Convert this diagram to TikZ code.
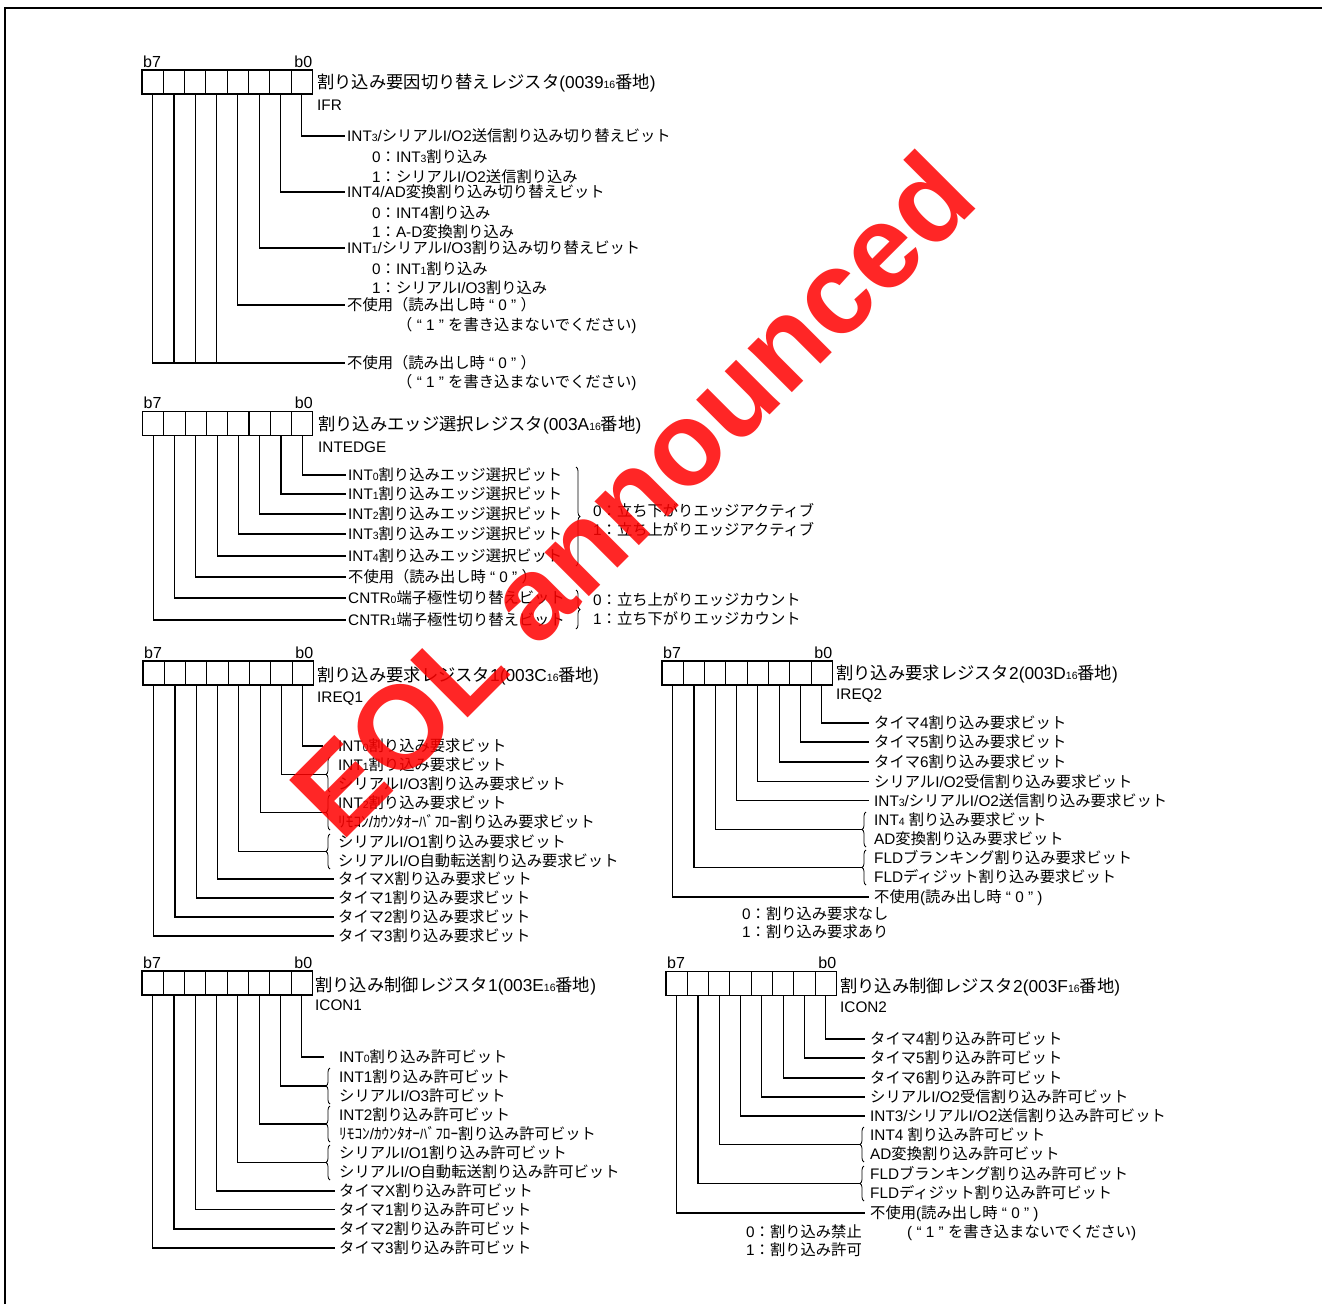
\documentclass[tikz,border=0pt]{standalone}
\usepackage{fontspec}
\setmainfont{Liberation Sans}
\newfontfamily\jpf{Noto Sans CJK JP}
\usetikzlibrary{decorations.pathreplacing}
\newcount\cjkcnt
\chardef\CJKcls=7
\def\setcjkrange#1#2{\cjkcnt=#1\relax\loop\XeTeXcharclass\cjkcnt=\CJKcls\relax\ifnum\cjkcnt<#2\relax\advance\cjkcnt by 1\relax\repeat}
\setcjkrange{"3000}{"30FF}
\setcjkrange{"4E00}{"9FFF}
\setcjkrange{"FF00}{"FFEF}
\XeTeXinterchartokenstate=1
\XeTeXinterchartoks 0 \CJKcls = {\jpf}
\XeTeXinterchartoks 4095 \CJKcls = {\jpf}
\XeTeXinterchartoks \CJKcls 0 = {\rmfamily}
\XeTeXinterchartoks \CJKcls 4095 = {\rmfamily}
\newcommand\tx{\fontsize{15.3}{18}\selectfont}
\newcommand\ttx{\fontsize{17.3}{20}\selectfont}
\newcommand\bx{\fontsize{16}{18}\selectfont}
\newcommand\sbs[1]{{\fontsize{10.5}{12}\selectfont #1}}
\tikzset{
  cell/.style={draw, line width=1.1pt},
  conn/.style={line width=1.1pt},
  lbl/.style={anchor=west, inner sep=0pt, text height=12pt, text depth=1pt, font=\tx},
  ttl/.style={lbl, font=\ttx, text height=13pt},
  bitl/.style={inner sep=0pt, font=\bx},
  brc/.style={decorate, decoration={brace, amplitude=4pt}, line width=0.8pt},
  frame/.style={line width=2.6pt},
  wm/.style={rotate=45, text=red, text opacity=0.85, font=\fontsize{118}{126}\selectfont\bfseries, inner sep=0pt}
}
\newcommand\regdraw[3]{%
  \draw[cell] (#2,#3) rectangle ++(170.4,24);
  \foreach \k in {1,...,7} {\draw[cell] (#2+\k*21.3,#3) -- ++(0,24);}
  \foreach \k in {0,...,7} {\coordinate (#1-\k) at (#2+159.75-21.3*\k, #3+24);}
  \node[bitl, anchor=base west] (#1-b7) at (#2+1, #3-3) {b7};
  \node[bitl, anchor=base east] (#1-b0) at (#2+170.4, #3-3) {b0};
}
\begin{document}
\begin{tikzpicture}[x=1pt,y=-1pt]
\useasboundingbox (0,0) rectangle (1322,1304);
\fill[white] (0,0) rectangle (1322,1304);
\draw[frame] (5,1304) -- (5,8) -- (1322,8);

% ---------- IFR ----------
\regdraw{A}{142}{70}
\node[ttl] (A-t) at (317,82) {割り込み要因切り替えレジスタ(0039\sbs{16}番地)};
\node[lbl] (A-n) at (317,105) {IFR};
\node[lbl] (A-L0) at (347,136) {INT\sbs{3}/シリアルI/O2送信割り込み切り替えビット};
\node[lbl] (A-L0a) at (372,157) {0：INT\sbs{3}割り込み};
\node[lbl] (A-L0b) at (372,177) {1：シリアルI/O2送信割り込み};
\node[lbl] (A-L1) at (347,192) {INT4/AD変換割り込み切り替えビット};
\node[lbl] (A-L1a) at (372,213) {0：INT4割り込み};
\node[lbl] (A-L1b) at (372,232) {1：A-D変換割り込み};
\node[lbl] (A-L2) at (347,248) {INT\sbs{1}/シリアルI/O3割り込み切り替えビット};
\node[lbl] (A-L2a) at (372,269) {0：INT\sbs{1}割り込み};
\node[lbl] (A-L2b) at (372,288) {1：シリアルI/O3割り込み};
\node[lbl] (A-L3) at (347,305) {不使用（読み出し時 “ 0 ” ）};
\node[lbl] (A-L3a) at (397,325) {（ “ 1 ” を書き込まないでください)};
\node[lbl] (A-L4) at (347,363) {不使用（読み出し時 “ 0 ” ）};
\node[lbl] (A-L4a) at (397,382) {（ “ 1 ” を書き込まないでください)};
\foreach \k in {0,1,2,3} {\draw[conn] (A-\k) |- ([xshift=-2pt]A-L\k.west);}
\draw[conn] (A-7) |- ([xshift=-2pt]A-L4.west);
\foreach \k in {4,5,6} {\draw[conn] (A-\k) -- (A-\k |- A-L4.west);}

% ---------- INTEDGE ----------
\regdraw{B}{142.5}{411.5}
\node[ttl] (B-t) at (318,424) {割り込みエッジ選択レジスタ(003A\sbs{16}番地)};
\node[lbl] (B-n) at (318,447) {INTEDGE};
\node[lbl] (B-L0) at (348,475) {INT\sbs{0}割り込みエッジ選択ビット};
\node[lbl] (B-L1) at (348,494) {INT\sbs{1}割り込みエッジ選択ビット};
\node[lbl] (B-L2) at (348,514) {INT\sbs{2}割り込みエッジ選択ビット};
\node[lbl] (B-L3) at (348,534) {INT\sbs{3}割り込みエッジ選択ビット};
\node[lbl] (B-L4) at (348,556) {INT\sbs{4}割り込みエッジ選択ビット};
\node[lbl] (B-L5) at (348,577) {不使用（読み出し時 “ 0 ” ）};
\node[lbl] (B-L6) at (348,598) {CNTR\sbs{0}端子極性切り替えビット};
\node[lbl] (B-L7) at (348,620) {CNTR\sbs{1}端子極性切り替えビット};
\foreach \k in {0,...,7} {\draw[conn] (B-\k) |- ([xshift=-2pt]B-L\k.west);}
\coordinate (B-r1a) at (576,467); \coordinate (B-r1b) at (576,566);
\coordinate (B-r2a) at (576,590); \coordinate (B-r2b) at (576,629);
\draw[brc] (B-r1a) -- (B-r1b);
\draw[brc] (B-r2a) -- (B-r2b);
\node[lbl] (B-v0) at (593,511) {0：立ち下がりエッジアクティブ};
\node[lbl] (B-v1) at (593,530) {1：立ち上がりエッジアクティブ};
\node[lbl] (B-v2) at (593,600) {0：立ち上がりエッジカウント};
\node[lbl] (B-v3) at (593,619) {1：立ち下がりエッジカウント};

% ---------- IREQ1 ----------
\regdraw{C}{143}{661}
\node[ttl] (C-t) at (317,675) {割り込み要求レジスタ1(003C\sbs{16}番地)};
\node[lbl] (C-n) at (317,697) {IREQ1};
\node[lbl] (C-L0) at (338,746) {INT\sbs{0}割り込み要求ビット};
\node[lbl] (C-L1a) at (338,765) {INT\sbs{1}割り込み要求ビット};
\node[lbl] (C-L1b) at (338,784) {シリアルI/O3割り込み要求ビット};
\node[lbl] (C-L2a) at (338,803) {INT\sbs{2}割り込み要求ビット};
\node[lbl] (C-L2b) at (338,822) {ﾘﾓｺﾝ/ｶｳﾝﾀｵｰﾊﾞﾌﾛｰ割り込み要求ビット};
\node[lbl] (C-L3a) at (338,842) {シリアルI/O1割り込み要求ビット};
\node[lbl] (C-L3b) at (338,861) {シリアルI/O自動転送割り込み要求ビット};
\node[lbl] (C-L4) at (338,879) {タイマX割り込み要求ビット};
\node[lbl] (C-L5) at (338,898) {タイマ1割り込み要求ビット};
\node[lbl] (C-L6) at (338,917) {タイマ2割り込み要求ビット};
\node[lbl] (C-L7) at (338,936) {タイマ3割り込み要求ビット};
\draw[conn] (C-0) |- ([xshift=-15pt]C-L0.west);
\coordinate (C-k1a) at (330,792); \coordinate (C-k1b) at (330,757); \coordinate (C-k1) at (326,774.5);
\coordinate (C-k2a) at (330,830); \coordinate (C-k2b) at (330,795); \coordinate (C-k2) at (326,812.5);
\coordinate (C-k3a) at (330,869); \coordinate (C-k3b) at (330,834); \coordinate (C-k3) at (326,851.5);
\foreach \k in {1,2,3} {\draw[brc] (C-k\k a) -- (C-k\k b); \draw[conn] (C-\k) |- (C-k\k);}
\foreach \k in {4,...,7} {\draw[conn] (C-\k) |- ([xshift=-4pt]C-L\k.west);}

% ---------- IREQ2 ----------
\regdraw{D}{662}{661}
\node[ttl] (D-t) at (836,673) {割り込み要求レジスタ2(003D\sbs{16}番地)};
\node[lbl] (D-n) at (836,694) {IREQ2};
\node[lbl] (D-L0) at (874,723) {タイマ4割り込み要求ビット};
\node[lbl] (D-L1) at (874,742) {タイマ5割り込み要求ビット};
\node[lbl] (D-L2) at (874,762) {タイマ6割り込み要求ビット};
\node[lbl] (D-L3) at (874,781.5) {シリアルI/O2受信割り込み要求ビット};
\node[lbl] (D-L4) at (874,800.5) {INT\sbs{3}/シリアルI/O2送信割り込み要求ビット};
\node[lbl] (D-L5a) at (874,820) {INT\sbs{4} 割り込み要求ビット};
\node[lbl] (D-L5b) at (874,838.5) {AD変換割り込み要求ビット};
\node[lbl] (D-L6a) at (874,858) {FLDブランキング割り込み要求ビット};
\node[lbl] (D-L6b) at (874,877) {FLDディジット割り込み要求ビット};
\node[lbl] (D-L7) at (874,897) {不使用(読み出し時 “ 0 ” )};
\node[lbl] (D-v0) at (742,914) {0：割り込み要求なし};
\node[lbl] (D-v1) at (742,932) {1：割り込み要求あり};
\foreach \k in {0,...,4,7} {\draw[conn] (D-\k) |- ([xshift=-5pt]D-L\k.west);}
\coordinate (D-k5a) at (866,847); \coordinate (D-k5b) at (866,812); \coordinate (D-k5) at (862,829.5);
\coordinate (D-k6a) at (866,885); \coordinate (D-k6b) at (866,850); \coordinate (D-k6) at (862,867.5);
\foreach \k in {5,6} {\draw[brc] (D-k\k a) -- (D-k\k b); \draw[conn] (D-\k) |- (D-k\k);}

% ---------- ICON1 ----------
\regdraw{E}{142}{971}
\node[ttl] (E-t) at (315,985) {割り込み制御レジスタ1(003E\sbs{16}番地)};
\node[lbl] (E-n) at (315,1005) {ICON1};
\node[lbl] (E-L0) at (339,1057) {INT\sbs{0}割り込み許可ビット};
\node[lbl] (E-L1a) at (339,1077) {INT1割り込み許可ビット};
\node[lbl] (E-L1b) at (339,1095.5) {シリアルI/O3許可ビット};
\node[lbl] (E-L2a) at (339,1115) {INT2割り込み許可ビット};
\node[lbl] (E-L2b) at (339,1134) {ﾘﾓｺﾝ/ｶｳﾝﾀｵｰﾊﾞﾌﾛｰ割り込み許可ビット};
\node[lbl] (E-L3a) at (339,1153) {シリアルI/O1割り込み許可ビット};
\node[lbl] (E-L3b) at (339,1172) {シリアルI/O自動転送割り込み許可ビット};
\node[lbl] (E-L4) at (339,1191) {タイマX割り込み許可ビット};
\node[lbl] (E-L5) at (339,1209.5) {タイマ1割り込み許可ビット};
\node[lbl] (E-L6) at (339,1229) {タイマ2割り込み許可ビット};
\node[lbl] (E-L7) at (339,1248) {タイマ3割り込み許可ビット};
\draw[conn] (E-0) |- ([xshift=-15pt]E-L0.west);
\coordinate (E-k1a) at (330,1104); \coordinate (E-k1b) at (330,1068); \coordinate (E-k1) at (326,1086);
\coordinate (E-k2a) at (330,1142); \coordinate (E-k2b) at (330,1106); \coordinate (E-k2) at (326,1124);
\coordinate (E-k3a) at (330,1180); \coordinate (E-k3b) at (330,1145); \coordinate (E-k3) at (326,1162.5);
\foreach \k in {1,2,3} {\draw[brc] (E-k\k a) -- (E-k\k b); \draw[conn] (E-\k) |- (E-k\k);}
\foreach \k in {4,...,7} {\draw[conn] (E-\k) |- ([xshift=-4pt]E-L\k.west);}

% ---------- ICON2 ----------
\regdraw{F}{666}{971.5}
\node[ttl] (F-t) at (840,986) {割り込み制御レジスタ2(003F\sbs{16}番地)};
\node[lbl] (F-n) at (840,1007) {ICON2};
\node[lbl] (F-L0) at (870,1039) {タイマ4割り込み許可ビット};
\node[lbl] (F-L1) at (870,1058) {タイマ5割り込み許可ビット};
\node[lbl] (F-L2) at (870,1078) {タイマ6割り込み許可ビット};
\node[lbl] (F-L3) at (870,1097) {シリアルI/O2受信割り込み許可ビット};
\node[lbl] (F-L4) at (870,1116) {INT3/シリアルI/O2送信割り込み許可ビット};
\node[lbl] (F-L5a) at (870,1135) {INT4 割り込み許可ビット};
\node[lbl] (F-L5b) at (870,1154) {AD変換割り込み許可ビット};
\node[lbl] (F-L6a) at (870,1174) {FLDブランキング割り込み許可ビット};
\node[lbl] (F-L6b) at (870,1193) {FLDディジット割り込み許可ビット};
\node[lbl] (F-L7) at (870,1213) {不使用(読み出し時 “ 0 ” )};
\node[lbl] (F-v0) at (746,1232) {0：割り込み禁止};
\node[lbl] (F-v2) at (907,1232) {( “ 1 ” を書き込まないでください)};
\node[lbl] (F-v1) at (746,1250) {1：割り込み許可};
\foreach \k in {0,...,4,7} {\draw[conn] (F-\k) |- ([xshift=-5pt]F-L\k.west);}
\coordinate (F-k5a) at (864,1162); \coordinate (F-k5b) at (864,1127); \coordinate (F-k5) at (860,1144.5);
\coordinate (F-k6a) at (864,1201); \coordinate (F-k6b) at (864,1166); \coordinate (F-k6) at (860,1183.5);
\foreach \k in {5,6} {\draw[brc] (F-k\k a) -- (F-k\k b); \draw[conn] (F-\k) |- (F-k\k);}

% ---------- watermark ----------
\node[wm] (wmark) at (632,494) {EOL announced};
\end{tikzpicture}
\end{document}
